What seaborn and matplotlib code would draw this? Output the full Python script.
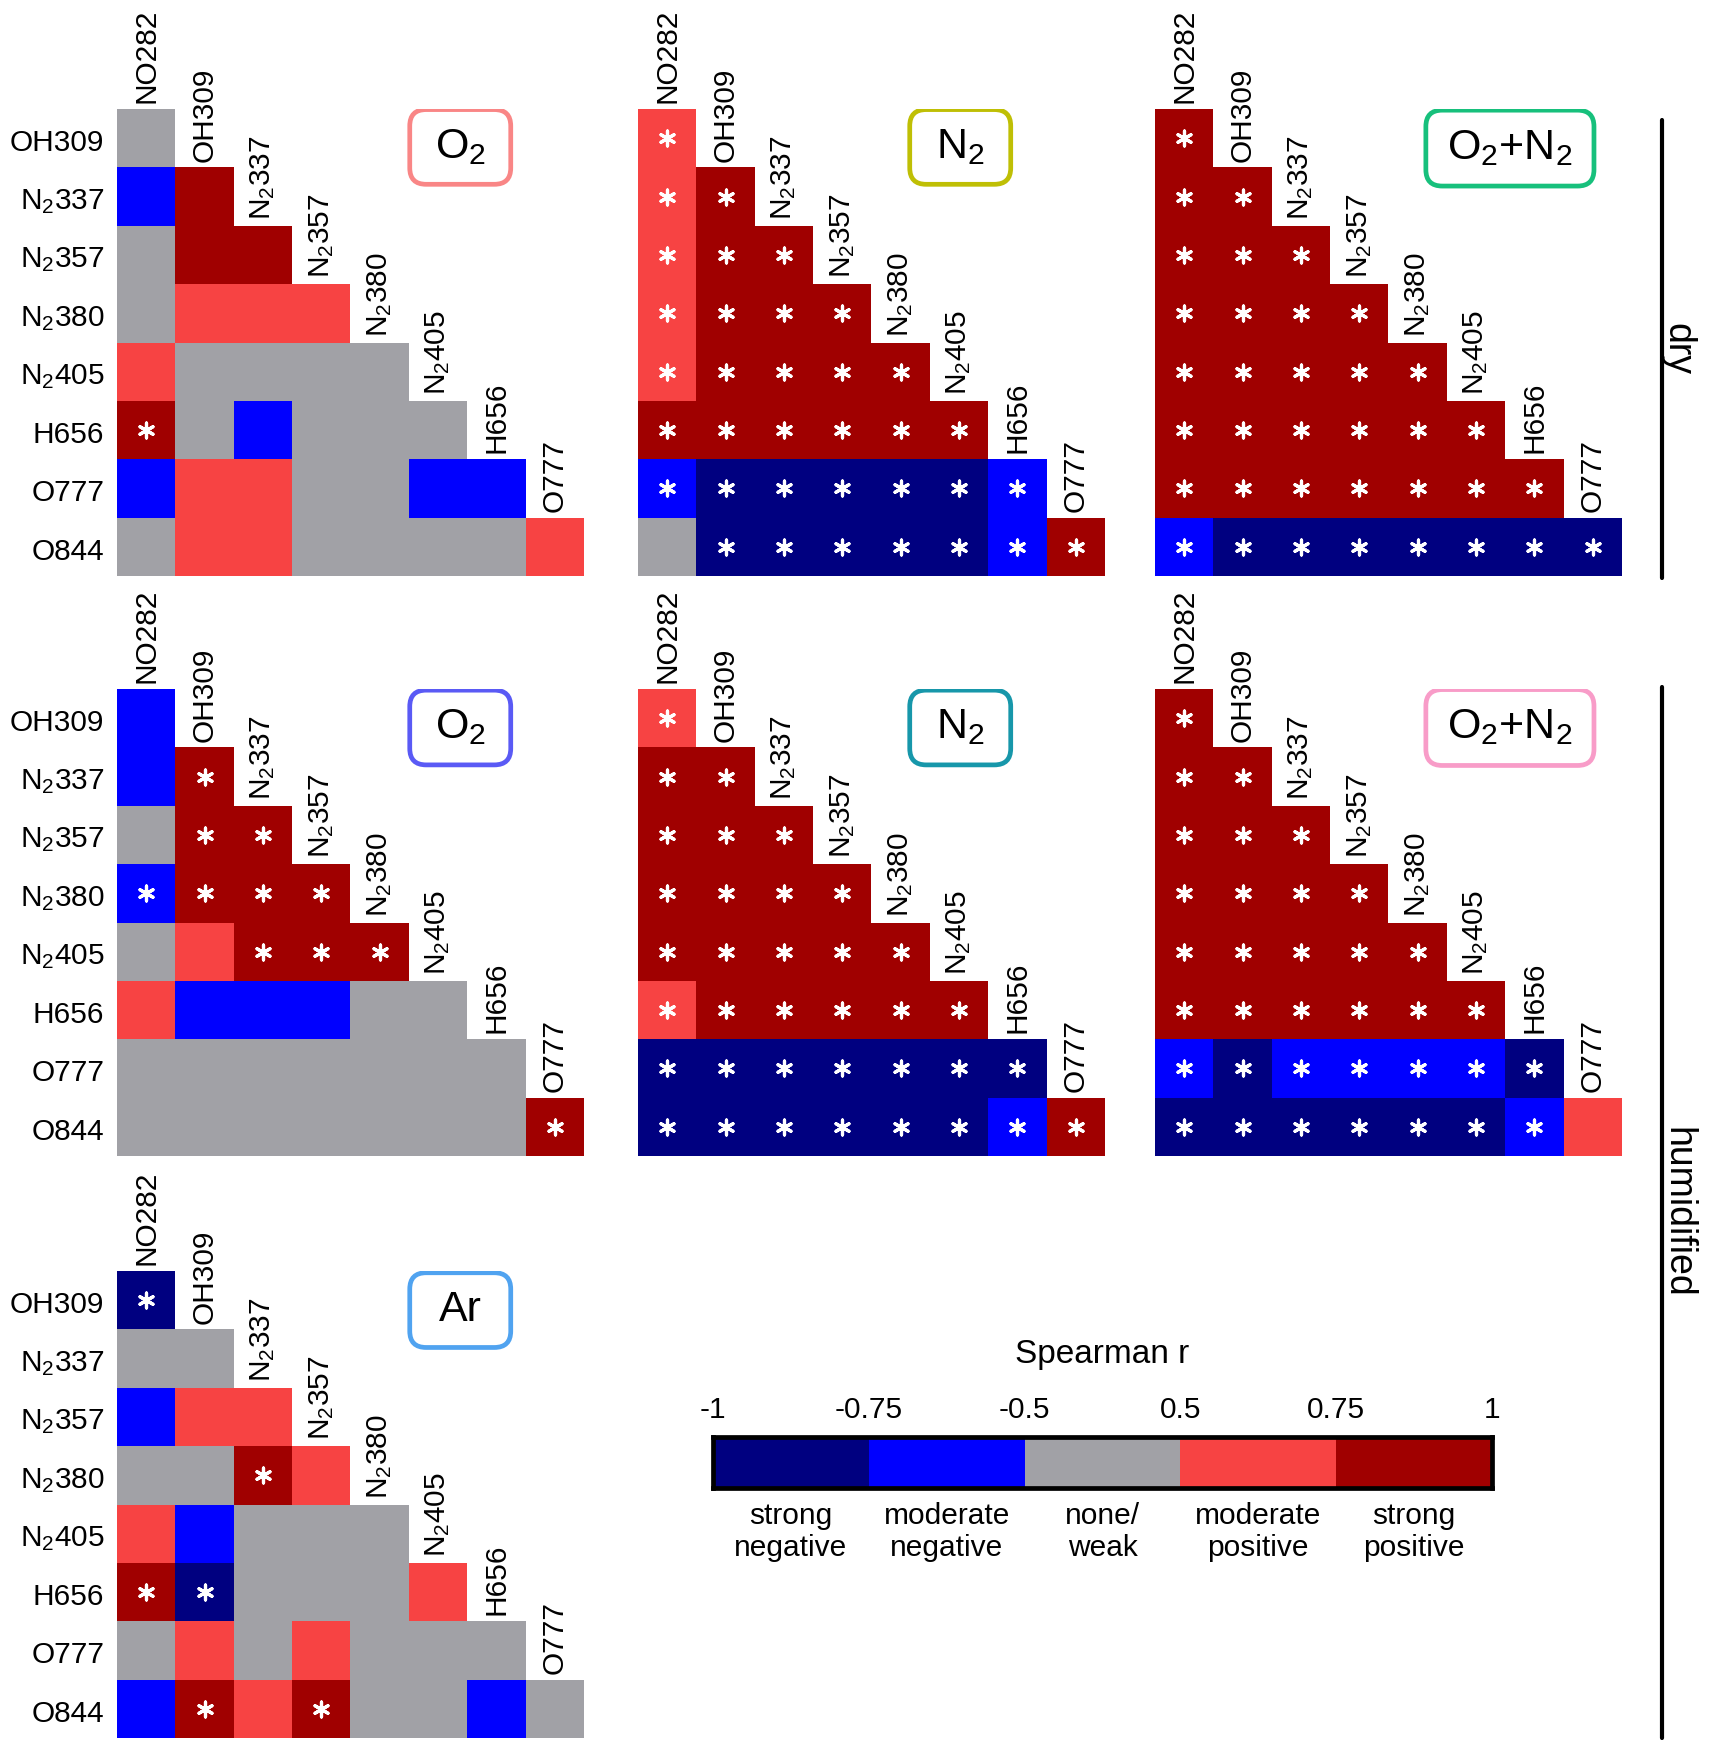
import numpy as np
import pandas as pd
import matplotlib
matplotlib.use("Agg")
import matplotlib.pyplot as plt
from matplotlib.colors import ListedColormap
from matplotlib.patches import FancyBboxPatch
from matplotlib.lines import Line2D
import matplotlib.transforms as mtransforms
import seaborn as sns

sns.set_theme(style="white")
plt.rcParams["font.family"] = ["Liberation Sans", "DejaVu Sans"]
plt.rcParams["mathtext.fontset"] = "custom"
plt.rcParams["mathtext.rm"] = "Liberation Sans"
plt.rcParams["mathtext.it"] = "Liberation Sans:italic"
plt.rcParams["mathtext.bf"] = "Liberation Sans:bold"
plt.rcParams["text.color"] = "black"
plt.rcParams["xtick.color"] = "black"
plt.rcParams["ytick.color"] = "black"
plt.rcParams["xtick.labelcolor"] = "black"
plt.rcParams["ytick.labelcolor"] = "black"

# ---------------- data ----------------
row_labels = ["OH309", "N$_2$337", "N$_2$357", "N$_2$380", "N$_2$405", "H656", "O777", "O844"]
col_labels = ["NO282", "OH309", "N$_2$337", "N$_2$357", "N$_2$380", "N$_2$405", "H656", "O777"]

# correlation class per cell: -2 strong neg, -1 moderate neg, 0 none/weak, 1 moderate pos, 2 strong pos
# a trailing '*' marks a significant correlation
dry_o2 = ["0",
          "-1 2",
          "0 2 2",
          "0 1 1 1",
          "1 0 0 0 0",
          "2* 0 -1 0 0 0",
          "-1 1 1 0 0 -1 -1",
          "0 1 1 0 0 0 0 1"]
dry_n2 = ["1*",
          "1* 2*",
          "1* 2* 2*",
          "1* 2* 2* 2*",
          "1* 2* 2* 2* 2*",
          "2* 2* 2* 2* 2* 2*",
          "-1* -2* -2* -2* -2* -2* -1*",
          "0 -2* -2* -2* -2* -2* -1* 2*"]
dry_o2n2 = ["2*",
            "2* 2*",
            "2* 2* 2*",
            "2* 2* 2* 2*",
            "2* 2* 2* 2* 2*",
            "2* 2* 2* 2* 2* 2*",
            "2* 2* 2* 2* 2* 2* 2*",
            "-1* -2* -2* -2* -2* -2* -2* -2*"]
hum_o2 = ["-1",
          "-1 2*",
          "0 2* 2*",
          "-1* 2* 2* 2*",
          "0 1 2* 2* 2*",
          "1 -1 -1 -1 0 0",
          "0 0 0 0 0 0 0",
          "0 0 0 0 0 0 0 2*"]
hum_n2 = ["1*",
          "2* 2*",
          "2* 2* 2*",
          "2* 2* 2* 2*",
          "2* 2* 2* 2* 2*",
          "1* 2* 2* 2* 2* 2*",
          "-2* -2* -2* -2* -2* -2* -2*",
          "-2* -2* -2* -2* -2* -2* -1* 2*"]
hum_o2n2 = ["2*",
            "2* 2*",
            "2* 2* 2*",
            "2* 2* 2* 2*",
            "2* 2* 2* 2* 2*",
            "2* 2* 2* 2* 2* 2*",
            "-1* -2* -1* -1* -1* -1* -2*",
            "-2* -2* -2* -2* -2* -2* -1* 1"]
hum_ar = ["-2*",
          "0 0",
          "-1 1 1",
          "0 0 2* 1",
          "1 -1 0 0 0",
          "2* -2* 0 0 0 1",
          "0 1 0 1 0 0 0",
          "-1 2* 1 2* 0 0 -1 0"]

panel_names = ["O$_2$", "N$_2$", "O$_2$+N$_2$", "O$_2$", "N$_2$", "O$_2$+N$_2$", "Ar"]
panel_data = [dry_o2, dry_n2, dry_o2n2, hum_o2, hum_n2, hum_o2n2, hum_ar]

legend_bounds = ["-1", "-0.75", "-0.5", "0.5", "0.75", "1"]
legend_levels = [-2, -1, 0, 1, 2]
legend_names = ["strong\nnegative", "moderate\nnegative", "none/\nweak", "moderate\npositive", "strong\npositive"]
legend_title = "Spearman r"
condition_names = ["dry", "humidified"]

class_colors = ["#000080", "#0000FF", "#A1A1A6", "#F74343", "#A00000"]
box_colors = ["#F98686", "#BFBF05", "#17C07C", "#5A5AF5", "#1797AA", "#F89CC8", "#50A3F0"]

# ---------------- layout ----------------
W, H = 1715, 1748
fig = plt.figure(figsize=(W / 100, H / 100), dpi=100)
PANEL = 467.0
col_left = [117, 638, 1155]
row_top = [109, 689, 1271]
grid_pos = [(0, 0), (0, 1), (0, 2), (1, 0), (1, 1), (1, 2), (2, 0)]
box_xy = [(5.88, 0.65), (5.52, 0.65), (6.08, 0.67), (5.88, 0.66), (5.52, 0.66), (6.08, 0.66), (5.88, 0.67)]
box_wh = [(1.73, 1.28), (1.73, 1.28), (2.88, 1.30), (1.73, 1.28), (1.73, 1.28), (2.88, 1.30), (1.73, 1.28)]

cmap = ListedColormap(class_colors)
FS = 21.5
label_shift = mtransforms.ScaledTranslation(0, -0.05, fig.dpi_scale_trans)


def parse(rows):
    n = len(row_labels)
    m = np.full((n, len(col_labels)), np.nan)
    sig = np.zeros_like(m, dtype=bool)
    for i, r in enumerate(rows):
        for j, tok in enumerate(r.split()):
            sig[i, j] = tok.endswith("*")
            m[i, j] = float(tok.rstrip("*"))
    return m, sig


def fig_rect(left, top, w, h):
    return [left / W, 1 - (top + h) / H, w / W, h / H]


for k, (rows, name) in enumerate(zip(panel_data, panel_names)):
    r, c = grid_pos[k]
    ax = fig.add_axes(fig_rect(col_left[c], row_top[r], PANEL, PANEL))
    m, sig = parse(rows)
    df = pd.DataFrame(m, index=row_labels, columns=col_labels)
    sns.heatmap(df, ax=ax, cmap=cmap, vmin=-2.5, vmax=2.5, cbar=False,
                mask=np.isnan(m), linewidths=0, xticklabels=False,
                yticklabels=(c == 0))
    if c == 0:
        ax.tick_params(axis="y", length=0, pad=9, labelsize=FS, rotation=0)
        for lab in ax.get_yticklabels():
            lab.set_transform(lab.get_transform() + label_shift)
    else:
        ax.set_yticks([])
    ax.set_xticks([])
    ax.set_xlabel("")
    ax.set_ylabel("")
    # column labels above diagonal cells
    for j, lab in enumerate(col_labels):
        ax.text(j + 0.5, j - 0.1, lab, rotation=90, ha="center", va="bottom",
                fontsize=FS, color="black")
    # significance stars
    yy, xx = np.nonzero(sig)
    ax.scatter(xx + 0.5, yy + 0.5, marker=(6, 2, 0), s=115, c="white",
               linewidths=2.3, zorder=5)
    # panel label box
    bx, by = box_xy[k]
    bw, bh = box_wh[k]
    ax.add_patch(FancyBboxPatch((bx - bw / 2, by - bh / 2), bw, bh,
                                boxstyle="round,pad=0,rounding_size=0.28",
                                facecolor="white", edgecolor=box_colors[k],
                                linewidth=3.4, zorder=6))
    ax.text(bx, by, name, ha="center", va="center", fontsize=31, zorder=7,
            color="black")

# ---------------- legend (colour key) ----------------
cax = fig.add_axes(fig_rect(713, 1437, 779, 51))
sns.heatmap(np.array([legend_levels]), ax=cax, cmap=cmap, vmin=-2.5, vmax=2.5,
            cbar=False, xticklabels=False, yticklabels=False, linewidths=0)
for s in cax.spines.values():
    s.set_visible(True)
    s.set_linewidth(3.4)
    s.set_color("black")
cax.set_xticks(np.arange(len(legend_bounds)), legend_bounds)
cax.set_xticks(np.arange(len(legend_names)) + 0.5, legend_names, minor=True)
cax.tick_params(axis="x", which="major", length=0, top=False, bottom=False,
                labeltop=True, labelbottom=False, labelsize=FS, pad=9)
cax.tick_params(axis="x", which="minor", direction="in", length=6, width=1.8,
                top=True, bottom=True, labeltop=False, labelbottom=True,
                labelsize=FS, pad=10, color="black")
cax.set_yticks([])
fig.text(1102 / W, 1 - 1355 / H, legend_title, ha="center", va="center",
         fontsize=24, color="black")

# ---------------- condition brackets ----------------
line_x = 1662
spans = [(120, 578), (687, 1738)]
for (y0, y1), lab in zip(spans, condition_names):
    fig.add_artist(Line2D([line_x / W, line_x / W], [1 - y0 / H, 1 - y1 / H],
                          color="black", linewidth=3.0))
    fig.text((line_x - 3) / W, 1 - (y0 + y1) / 2 / H, lab, rotation=-90,
             ha="left", va="center", fontsize=27, color="black")

fig.savefig("out.png", dpi=100)
